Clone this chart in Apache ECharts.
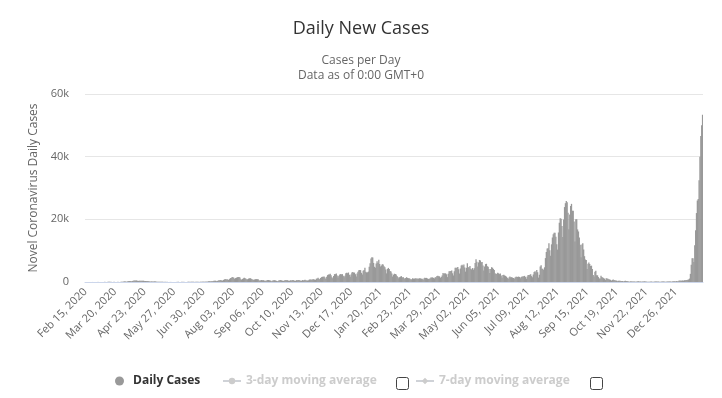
<!DOCTYPE html>
<html>
<head>
<meta charset="utf-8">
<script src="https://cdn.jsdelivr.net/npm/echarts@6/dist/echarts.min.js"></script>
<style>
  html, body { margin: 0; padding: 0; background: #fff; }
  #dailyCasesChart { width: 722px; height: 398px; }
</style>
</head>
<body>
<div id="dailyCasesChart"></div>
<script>
// daily new cases, one value per day as shown on the chart (Feb 15, 2020 -> Jan 26, 2022)
const feb2020 = [4,3,12,6,6,1,7,8,12,12,13,10,12,14,22];
const mar2020 = [25,9,12,15,20,18,33,60,25,35,26,59,52,55,44,41,15,33,44,39,34,37,46,43,38,39,65,96,112,123,194];
const apr2020 = [173,88,180,210,280,300,270,200,290,400,440,470,480,490,380,350,360,430,420,420,430,410,290,300,330,330,280,260,160,130];
const may2020 = [190,180,120,190,220,150,90,75,65,50,62,80,45,60,40,42,70,25,40,25,22,15,30,16,18,25,15,22,26,30,36];
const jun2020 = [40,32,38,32,42,39,45,40,31,29,34,47,53,58,45,40,48,43,42,35,46,60,64,90,37,57,72,103,95,104];
const jul2020 = [87,99,131,106,123,225,236,190,204,209,357,415,429,405,255,306,451,581,595,666,508,418,630,795,963,807,840,765,603,923,1237];
const aug2020 = [1301,1575,1536,1333,951,1248,1357,1485,1597,1570,1435,913,720,945,1177,1358,1225,1024,805,843,1085,1172,1180,1046,859,707,682,826,895,903,904];
const sep2020 = [850,584,437,595,629,543,575,516,282,504,510,648,632,539,444,276,430,508,584,531,488,368,255,302,543,573,647,500,416,306];
const oct2020 = [466,563,617,574,521,403,335,559,509,593,620,539,379,351,575,533,621,607,587,410,367,619,499,627,716,553,492,453,538,768,801];
const nov2020 = [761,717,839,881,746,645,1053,1125,1326,1004,844,1273,1554,1660,1704,1735,1433,951,1698,2201,2386,2425,2596,2176,1518,1228,1937,2504,2502,2684];
const dec2020 = [2070,1437,2029,2423,2523,2441,2508,2026,1486,2019,2798,2964,2803,3030,2334,1678,2401,3059,3207,2980,2992,2487,1770,2711,3271,3738,3824,3780,2920,2387,3574];
const jan2021 = [3852,4520,3255,3064,3084,3318,4890,5946,7539,7882,7788,6091,4860,4521,5870,6602,6030,7110,5753,4946,5264,5648,5587,5039,4702,3992,2740,4160,4500,4131,3537];
const feb2021 = [3326,2673,1779,2324,2638,2575,2368,1883,1579,1233,1537,1710,1877,1429,1572,1309,979,1289,1528,1297,1236,1212,1042,805,901,1208,1040,1048];
const mar2021 = [1200,1000,1235,996,1100,1182,1148,1062,1061,600,1128,1317,1290,1318,1119,995,1012,1116,1461,1419,1458,1303,1123,1508,1520,1920,1999,1822,1785,1304,1581];
const apr2021 = [2060,2840,2613,2763,2730,2452,1563,2650,3442,3454,3480,3697,2777,2088,3446,4574,4576,4529,4802,4105,2704,4306,5292,5491,5116,5611,4595,3312,4529,5979];
const may2021 = [4676,4705,5075,4263,4002,4451,3910,4362,6043,7223,6482,4951,6250,7035,6860,6267,6420,5249,3674,4958,5711,5813,4996,4830,4117,2870,4134,4727,4539,4160,3866];
const jun2021 = [2761,2576,2639,2926,2761,2510,2683,2039,1341,2230,2301,2038,1938,1691,1385,935,1451,1781,1537,1522,1403,1308,1017,1430,1713,1643,1622,1728,1609,1232];
const jul2021 = [1557,1753,1767,1840,1952,1571,1027,1767,2195,2232,2283,2451,1877,1502,2376,3184,3421,3064,3862,3104,1412,2324,4938,5383,4221,4225,3847,4690,7629,9576,10695];
const aug2021 = [10772,12341,10170,8410,12016,14204,15252,15755,15751,14469,12070,10343,15811,18883,20361,20150,17889,14394,19937,23914,25148,25873,25490,22106,16814,21558,24276,24938,22739,22767,19292];
const sep2021 = [12889,20030,20001,16781,16124,14224,11875,7900,11969,12384,10411,8242,7175,6984,4161,5854,6185,5723,5109,5216,4171,2221,1770,3246,3593,2133,2117,1573,1129,1128];
const oct2021 = [1986,1576,1444,1223,1054,619,1165,1131,1019,879,796,680,369,613,812,621,580,504,429,253,388,418,374,345,336,322,154,274,371,289,284];
const nov2021 = [249,161,86,212,182,161,162,155,162,93,134,195,220,198,184,163,79,124,152,208,139,121,95,51,66,77,124,146,113,82];
const dec2021 = [99,133,125,155,124,141,114,78,102,152,155,164,127,94,105,160,168,186,168,163,117,140,240,227,267,197,284,200,263,453,432];
const jan2022 = [453,432,499,401,534,554,600,650,700,782,1100,2600,5500,7600,7600,6400,11700,16500,22000,26000,26500,32500,40000,46600,50000,53400];

const dailyCases = [].concat(
  feb2020, mar2020, apr2020, may2020, jun2020, jul2020, aug2020, sep2020, oct2020, nov2020, dec2020,
  jan2021, feb2021, mar2021, apr2021, may2021, jun2021, jul2021, aug2021, sep2021, oct2021, nov2021, dec2021,
  jan2022
);

const firstDay = Date.UTC(2020, 1, 15);
const monthNames = ['Jan','Feb','Mar','Apr','May','Jun','Jul','Aug','Sep','Oct','Nov','Dec'];
const dates = dailyCases.map(function (v, i) {
  const d = new Date(firstDay + i * 86400000);
  return monthNames[d.getUTCMonth()] + ' ' + String(d.getUTCDate()).padStart(2, '0') + ', ' + d.getUTCFullYear();
});
const labelStep = 34;
const yTicks = [0, 20000, 40000, 60000];

const font = '"Open Sans", "Liberation Sans", sans-serif';
const myChart = echarts.init(document.getElementById('dailyCasesChart'));

myChart.setOption({
  animation: false,
  textStyle: { fontFamily: font },
  title: [
    {
      text: 'Daily New Cases',
      left: 'center',
      top: 15,
      textStyle: { fontSize: 18, fontWeight: 'normal', color: '#333', fontFamily: font }
    },
    {
      text: 'Cases per Day',
      left: 'center',
      top: 50,
      textStyle: { fontSize: 12, fontWeight: 'normal', color: '#666', fontFamily: font }
    },
    {
      text: 'Data as of 0:00 GMT+0',
      left: 'center',
      top: 65,
      textStyle: { fontSize: 12, fontWeight: 'normal', color: '#666', fontFamily: font }
    }
  ],
  legend: [
    {
      data: ['Daily Cases'],
      left: 110, top: 370,
      icon: 'circle', itemWidth: 9, itemHeight: 9,
      textStyle: { fontSize: 12, fontWeight: 'bold', color: '#333', padding: [0, 0, 0, 4], fontFamily: font }
    },
    {
      data: ['3-day moving average'],
      left: 217, top: 370,
      itemWidth: 18, itemHeight: 8,
      inactiveColor: '#ccc',
      textStyle: { fontSize: 12, fontWeight: 'bold', color: '#333', fontFamily: font }
    },
    {
      data: ['7-day moving average'],
      left: 410, top: 370,
      itemWidth: 18, itemHeight: 8,
      inactiveColor: '#ccc',
      textStyle: { fontSize: 12, fontWeight: 'bold', color: '#333', fontFamily: font }
    }
  ],
  grid: { left: 85, right: 19, top: 94, bottom: 116 },
  xAxis: {
    type: 'category',
    data: dates,
    axisLine: { lineStyle: { color: '#ccd6eb' } },
    axisTick: { show: false },
    axisLabel: {
      interval: function (index) { return index % labelStep === 0; },
      rotate: 45,
      margin: 8,
      fontSize: 11,
      color: '#666',
      fontFamily: font
    }
  },
  yAxis: {
    type: 'value',
    min: yTicks[0],
    max: yTicks[yTicks.length - 1],
    interval: yTicks[1] - yTicks[0],
    name: 'Novel Coronavirus Daily Cases',
    nameLocation: 'middle',
    nameGap: 45,
    nameTextStyle: { fontSize: 12, color: '#666', fontFamily: font },
    axisLabel: {
      margin: 16,
      fontSize: 11,
      color: '#666',
      fontFamily: font,
      formatter: function (v) { return v === 0 ? '0' : (v / 1000) + 'k'; }
    },
    splitLine: { lineStyle: { color: '#e6e6e6' } }
  },
  series: [
    {
      name: 'Daily Cases',
      type: 'bar',
      data: dailyCases,
      itemStyle: { color: '#999' },
      barWidth: 1.3
    },
    {
      name: '3-day moving average',
      type: 'line',
      symbol: 'circle',
      data: [],
      itemStyle: { color: '#999' }
    },
    {
      name: '7-day moving average',
      type: 'line',
      symbol: 'diamond',
      data: [],
      itemStyle: { color: '#999' }
    }
  ],
  graphic: [
    { type: 'rect', left: 396, top: 377, shape: { width: 12, height: 12, r: 2 }, style: { fill: '#fff', stroke: '#444', lineWidth: 1 } },
    { type: 'rect', left: 590, top: 377, shape: { width: 12, height: 12, r: 2 }, style: { fill: '#fff', stroke: '#444', lineWidth: 1 } }
  ]
});
myChart.dispatchAction({ type: 'legendUnSelect', name: '3-day moving average' });
myChart.dispatchAction({ type: 'legendUnSelect', name: '7-day moving average' });
</script>
</body>
</html>
